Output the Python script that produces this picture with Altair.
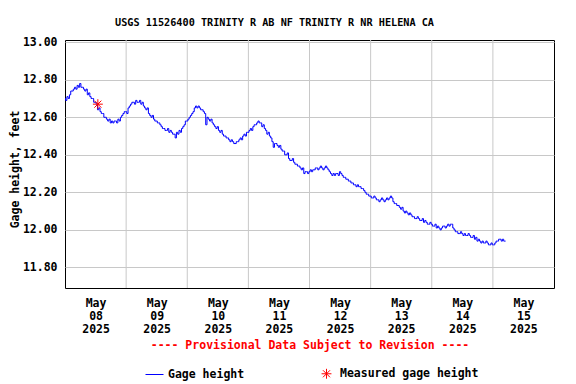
import altair as alt
import pandas as pd

TITLE = "USGS 11526400 TRINITY R AB NF TRINITY R NR HELENA CA"
X_TITLE = "---- Provisional Data Subject to Revision ----"
Y_TITLE = "Gage height, feet"

# half-hourly gage height readings (feet) starting May 08 2025 00:00
gage_day1 = [12.70, 12.69, 12.71, 12.70, 12.72, 12.74, 12.74, 12.75, 12.76, 12.75, 12.77, 12.76,
             12.78, 12.76, 12.76, 12.75, 12.74, 12.75, 12.72, 12.73, 12.71, 12.70, 12.70, 12.68,
             12.68, 12.67, 12.64, 12.65, 12.63, 12.62, 12.62, 12.60, 12.60, 12.59, 12.58, 12.59,
             12.57, 12.58, 12.57, 12.58, 12.58, 12.57, 12.59, 12.58, 12.60, 12.61, 12.62, 12.63]
gage_day2 = [12.63, 12.62, 12.65, 12.66, 12.67, 12.68, 12.68, 12.67, 12.69, 12.68, 12.68, 12.69,
             12.67, 12.68, 12.66, 12.65, 12.64, 12.65, 12.62, 12.61, 12.60, 12.61, 12.59, 12.58,
             12.58, 12.57, 12.57, 12.56, 12.55, 12.54, 12.54, 12.53, 12.53, 12.54, 12.52, 12.53,
             12.52, 12.51, 12.51, 12.49, 12.52, 12.51, 12.53, 12.52, 12.54, 12.55, 12.56, 12.58]
gage_day3 = [12.58, 12.59, 12.60, 12.61, 12.62, 12.63, 12.65, 12.66, 12.65, 12.66, 12.65, 12.64,
             12.64, 12.63, 12.62, 12.56, 12.60, 12.59, 12.58, 12.59, 12.57, 12.56, 12.55, 12.54,
             12.55, 12.53, 12.52, 12.53, 12.51, 12.50, 12.50, 12.49, 12.49, 12.48, 12.47, 12.48,
             12.47, 12.46, 12.46, 12.47, 12.47, 12.48, 12.49, 12.48, 12.50, 12.51, 12.50, 12.52]
gage_day4 = [12.52, 12.53, 12.54, 12.53, 12.55, 12.56, 12.56, 12.57, 12.58, 12.57, 12.57, 12.55,
             12.56, 12.54, 12.53, 12.51, 12.52, 12.50, 12.49, 12.47, 12.44, 12.46, 12.46, 12.45,
             12.44, 12.45, 12.43, 12.42, 12.42, 12.40, 12.40, 12.41, 12.38, 12.37, 12.37, 12.38,
             12.36, 12.35, 12.35, 12.34, 12.34, 12.33, 12.32, 12.33, 12.30, 12.31, 12.31, 12.30]
gage_day5 = [12.31, 12.32, 12.31, 12.32, 12.32, 12.33, 12.33, 12.32, 12.33, 12.34, 12.33, 12.32,
             12.33, 12.34, 12.33, 12.32, 12.31, 12.30, 12.29, 12.30, 12.29, 12.30, 12.30, 12.29,
             12.31, 12.30, 12.29, 12.28, 12.28, 12.27, 12.27, 12.26, 12.26, 12.25, 12.25, 12.24,
             12.24, 12.23, 12.24, 12.23, 12.23, 12.22, 12.22, 12.21, 12.20, 12.19, 12.19, 12.18]
gage_day6 = [12.18, 12.17, 12.17, 12.18, 12.17, 12.16, 12.16, 12.15, 12.16, 12.17, 12.16, 12.15,
             12.16, 12.17, 12.16, 12.17, 12.18, 12.17, 12.15, 12.14, 12.14, 12.13, 12.13, 12.12,
             12.11, 12.12, 12.10, 12.09, 12.10, 12.09, 12.08, 12.09, 12.08, 12.07, 12.07, 12.06,
             12.06, 12.07, 12.06, 12.05, 12.05, 12.06, 12.04, 12.05, 12.04, 12.03, 12.03, 12.04]
gage_day7 = [12.03, 12.02, 12.02, 12.03, 12.01, 12.02, 12.01, 12.00, 12.01, 12.02, 12.02, 12.01,
             12.02, 12.03, 12.02, 12.03, 12.03, 12.01, 12.00, 11.99, 11.99, 11.98, 11.98, 11.99,
             11.98, 11.97, 11.98, 11.97, 11.97, 11.98, 11.97, 11.96, 11.96, 11.97, 11.95, 11.96,
             11.94, 11.95, 11.94, 11.93, 11.94, 11.93, 11.93, 11.94, 11.93, 11.92, 11.92, 11.93]
gage_day8 = [11.92, 11.92, 11.93, 11.94, 11.94, 11.95, 11.95, 11.94, 11.95, 11.94, 11.94]

measured_hour = [12.9]
measured_height = [12.67]

series_names = ["Gage height", "Measured gage height"]
series_colors = ["#0000ff", "#ff0000"]

y_ticks = [11.8, 12.0, 12.2, 12.4, 12.6, 12.8, 13.0]
noon_hours = [12, 36, 60, 84, 108, 132, 156, 180]      # label positions (hours since May 08 00:00)
midnight_hours = [24, 48, 72, 96, 120, 144, 168]       # vertical grid lines

FONT = "DejaVu Sans Mono"
STAR = "M-0.55,0L0.55,0M0,-0.55L0,0.55M-0.39,-0.39L0.39,0.39M-0.39,0.39L0.39,-0.39"

gage_height = gage_day1 + gage_day2 + gage_day3 + gage_day4 + gage_day5 + gage_day6 + gage_day7 + gage_day8
gage_df = pd.DataFrame({"hour": [i * 0.5 for i in range(len(gage_height))], "height": gage_height})
meas_df = pd.DataFrame({"hour": measured_hour, "height": measured_height})
legend_df = pd.DataFrame({"series": series_names})
grid_df = pd.DataFrame({"hour": midnight_hours})

x_scale = alt.Scale(domain=[0, 192], nice=False, zero=False)
y_scale = alt.Scale(domain=[11.69, 13.012], nice=False, zero=False)

x_axis = alt.Axis(
    values=noon_hours,
    title=X_TITLE,
    titleColor="#ff0000",
    titlePadding=5,
    grid=False,
    ticks=False,
    domain=False,
    labelExpr="['May', format(8 + floor(datum.value / 24), '02d'), '2025']",
    labelPadding=9,
    labelLineHeight=13,
    labelOverlap=False,
    labelFlush=False,
)
y_axis = alt.Axis(
    values=y_ticks,
    format=".2f",
    title=Y_TITLE,
    titleX=-47,
    titleY=129,
    titleBaseline="alphabetic",
    grid=True,
    ticks=False,
    domain=False,
    labelPadding=8,
    labelOverlap=False,
    labelFlush=False,
)

vgrid = alt.Chart(grid_df).mark_rule(color="#c8c8c8", strokeWidth=1).encode(
    x=alt.X("hour:Q", scale=x_scale, axis=x_axis),
)

line = alt.Chart(gage_df).mark_line(color="#0000ff", strokeWidth=1, interpolate="step").encode(
    x=alt.X("hour:Q", scale=x_scale, axis=x_axis),
    y=alt.Y("height:Q", scale=y_scale, axis=y_axis),
)

star = alt.Chart(meas_df).mark_point(
    shape=STAR, color="#ff0000", filled=False, size=324, strokeWidth=1, opacity=1
).encode(x="hour:Q", y="height:Q")

leg = alt.Legend(
    title=None,
    orient="none",
    legendX=80,
    legendY=324,
    direction="horizontal",
    columnPadding=72,
    padding=0,
    symbolSize=324,
    symbolStrokeWidth=1,
    labelFont=FONT,
    labelFontSize=11.5,
    labelFontWeight="bold",
    labelColor="black",
    labelOffset=4,
)

legend_layer = alt.Chart(legend_df).mark_point(
    filled=False, size=324, strokeWidth=1, clip=True, opacity=1
).encode(
    x=alt.value(-300),
    y=alt.value(-300),
    color=alt.Color("series:N", scale=alt.Scale(domain=series_names, range=series_colors), legend=leg),
    shape=alt.Shape("series:N", scale=alt.Scale(domain=series_names, range=["stroke", STAR]), legend=leg),
)

chart = alt.layer(vgrid, line, star, legend_layer).properties(
    width=489,
    height=248,
    padding={"left": 57, "top": 32, "right": 14, "bottom": 96},
    autosize=alt.AutoSizeParams(type="none"),
    title=alt.TitleParams(
        text=TITLE,
        font=FONT,
        fontSize=10.2,
        fontWeight="bold",
        color="black",
        anchor="middle",
        dx=-35,
        offset=0,
        baseline="alphabetic",
    ),
).configure_view(
    stroke="black", strokeWidth=1
).configure_axis(
    labelFont=FONT,
    labelFontSize=11.5,
    labelFontWeight="bold",
    labelColor="black",
    titleFont=FONT,
    titleFontSize=11.5,
    titleFontWeight="bold",
    titleColor="black",
    gridColor="#c8c8c8",
    gridWidth=1,
).configure_axisX(
    titleColor="#ff0000"
)

chart.save("out.html", embed_options={"renderer": "svg", "actions": False})
